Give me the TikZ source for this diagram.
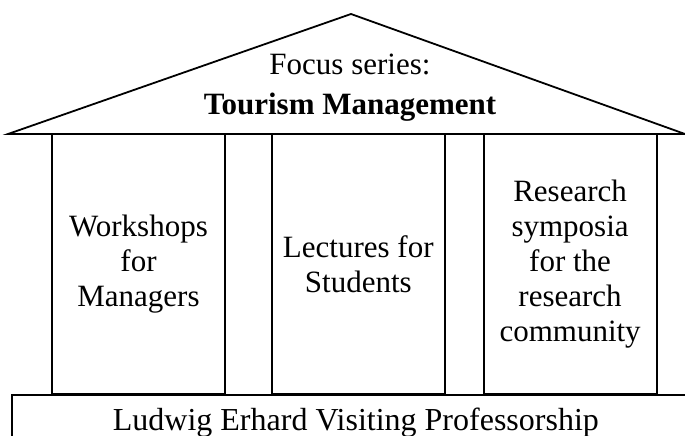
\documentclass[tikz,border=0pt]{standalone}
\usepackage{fontspec}
\setmainfont{Liberation Serif}
\usetikzlibrary{positioning}

\tikzset{
    pillar/.style={draw, rectangle, inner sep=0pt, minimum width=86.5pt,
        minimum height=130pt, align=center,
        font=\fontsize{15.5}{17.5}\selectfont},
    roof text/.style={align=center, font=\fontsize{15.5}{20}\selectfont},
}

\begin{document}
\begin{tikzpicture}[x=0.5pt, y=-0.5pt, line width=0.9pt]
    \useasboundingbox (0,0) rectangle (685,435);

    % roof
    \coordinate (apex) at (351,14);
    \coordinate (eaveL) at (8,134);
    \coordinate (eaveR) at (685,134);
    \draw (eaveL) -- (apex) -- (eaveR) -- cycle;
    \node [roof text] (series) at (350,88) {Focus series:\\\textbf{Tourism Management}};

    % pillars
    \node [pillar] (workshops) at (138.5,264) {Workshops\\for\\Managers};
    \node [pillar, right=22.5pt of workshops] (lectures) {Lectures for\\Students};
    \node [pillar, right=18.5pt of lectures] (symposia) {Research\\symposia\\for the\\research\\community};

    % foundation
    \node [draw, rectangle, anchor=north west, inner sep=0pt, minimum width=344pt,
        minimum height=27.5pt, font=\fontsize{16}{17.5}\selectfont]
        (professorship) at (11,394) {Ludwig Erhard Visiting Professorship};
\end{tikzpicture}
\end{document}
